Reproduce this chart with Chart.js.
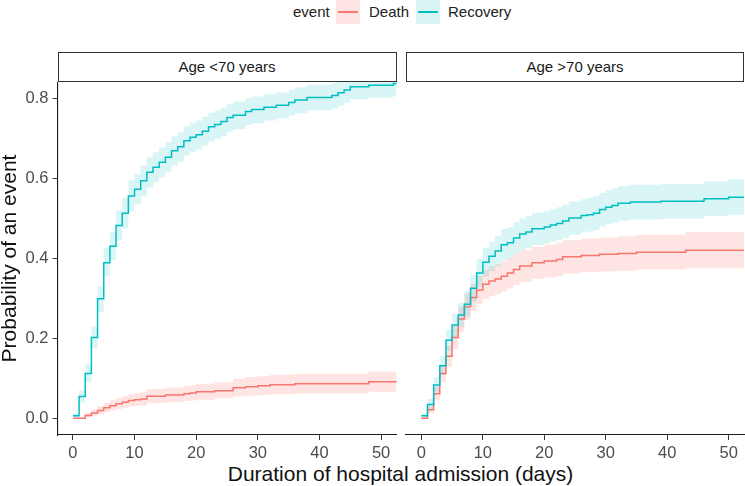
<!DOCTYPE html>
<html>
<head>
<meta charset="utf-8">
<script src="https://cdn.jsdelivr.net/npm/chart.js@4.4.0/dist/chart.umd.min.js"></script>
<style>
  body { margin: 0; background: #fff; font-family: "Liberation Sans", Arial, sans-serif; }
  #wrap { position: relative; width: 745px; height: 486px; overflow: hidden; }
  canvas { position: absolute; top: 82px; }
  .strip { position: absolute; top: 52px; height: 30px; box-sizing: border-box; border: 1.3px solid #333;
           font-size: 15px; color: #1a1a1a; text-align: center; line-height: 27px; background: #fff; }
  .leg { position: absolute; top: 0; font-size: 15px; color: #222; line-height: 24px; }
  .key { position: absolute; top: 0; width: 24px; height: 24px; }
  .key i { position: absolute; left: 2px; right: 2px; top: 11px; height: 2px; }
  #xtitle { position: absolute; left: 57px; width: 687px; top: 462px; text-align: center; font-size: 21px; color: #111; }
</style>
</head>
<body>
<div id="wrap">
  <div class="leg" style="left:293px">event</div>
  <div class="key" style="left:336px;background:rgba(248,118,109,0.2)"><i style="background:#F8766D"></i></div>
  <div class="leg" style="left:369px">Death</div>
  <div class="key" style="left:416px;background:rgba(0,191,196,0.15)"><i style="background:#00BFC4"></i></div>
  <div class="leg" style="left:448px">Recovery</div>

  <div class="strip" style="left:57.5px;width:339px">Age &lt;70 years</div>
  <div class="strip" style="left:406px;width:338px">Age &gt;70 years</div>

  <canvas id="young" width="400" height="380" style="left:0"></canvas>
  <canvas id="old" width="341" height="380" style="left:404px"></canvas>

  <div id="xtitle">Duration of hospital admission (days)</div>
</div>
<script>
// tick marks
var xTicks = [0, 10, 20, 30, 40, 50];
var yTicks = [0, 0.2, 0.4, 0.6, 0.8];
var yTickLabels = ["0.0", "0.2", "0.4", "0.6", "0.8"];

// Age <70 years - Recovery
var youngRecT  = [0, 1, 2, 3, 4, 5, 6, 7, 8, 9, 10, 11, 12, 13, 14, 15, 16, 17, 18, 19, 20, 21, 22, 23, 24, 25, 26, 28, 29, 31, 33, 35, 36, 38, 42, 43, 44, 45, 48, 52, 53];
var youngRec   = [0.006, 0.054, 0.112, 0.202, 0.299, 0.389, 0.430, 0.482, 0.513, 0.556, 0.573, 0.594, 0.615, 0.628, 0.640, 0.653, 0.669, 0.679, 0.694, 0.703, 0.709, 0.718, 0.729, 0.735, 0.742, 0.752, 0.758, 0.767, 0.772, 0.778, 0.783, 0.790, 0.796, 0.802, 0.807, 0.814, 0.821, 0.829, 0.833, 0.837, 0.837];
var youngRecLo = [0.002, 0.040, 0.090, 0.175, 0.265, 0.355, 0.395, 0.445, 0.475, 0.518, 0.535, 0.555, 0.577, 0.590, 0.602, 0.615, 0.632, 0.642, 0.657, 0.666, 0.672, 0.682, 0.693, 0.699, 0.706, 0.717, 0.723, 0.733, 0.738, 0.745, 0.750, 0.757, 0.763, 0.770, 0.775, 0.782, 0.790, 0.798, 0.802, 0.806, 0.806];
var youngRecHi = [0.012, 0.070, 0.135, 0.230, 0.330, 0.425, 0.465, 0.520, 0.550, 0.595, 0.610, 0.632, 0.652, 0.665, 0.677, 0.690, 0.705, 0.715, 0.730, 0.739, 0.745, 0.754, 0.764, 0.770, 0.777, 0.786, 0.792, 0.800, 0.805, 0.810, 0.815, 0.822, 0.828, 0.834, 0.839, 0.846, 0.852, 0.860, 0.864, 0.868, 0.868];

// Age <70 years - Death
var youngDeathT  = [0, 2, 3, 4, 5, 6, 7, 8, 9, 10, 11, 12, 15, 18, 19, 20, 23, 26, 28, 30, 32, 36, 48, 53];
var youngDeath   = [0.000, 0.007, 0.013, 0.019, 0.026, 0.031, 0.036, 0.040, 0.044, 0.046, 0.048, 0.055, 0.058, 0.061, 0.063, 0.066, 0.069, 0.076, 0.079, 0.081, 0.084, 0.086, 0.091, 0.091];
var youngDeathLo = [0.000, 0.002, 0.006, 0.010, 0.015, 0.019, 0.023, 0.026, 0.029, 0.031, 0.032, 0.038, 0.040, 0.043, 0.044, 0.046, 0.049, 0.054, 0.056, 0.058, 0.060, 0.062, 0.066, 0.066];
var youngDeathHi = [0.001, 0.013, 0.022, 0.030, 0.038, 0.045, 0.050, 0.055, 0.060, 0.063, 0.065, 0.073, 0.077, 0.081, 0.083, 0.086, 0.090, 0.099, 0.103, 0.105, 0.109, 0.111, 0.117, 0.117];

// Age >70 years - Recovery
var oldRecT  = [0, 1, 2, 3, 4, 5, 6, 7, 8, 9, 10, 11, 12, 13, 14, 15, 16, 17, 18, 20, 21, 22, 23, 24, 26, 27, 28, 29, 30, 31, 32, 34, 39, 46, 50, 53];
var oldRec   = [0.006, 0.034, 0.083, 0.131, 0.195, 0.233, 0.258, 0.285, 0.325, 0.363, 0.390, 0.405, 0.418, 0.434, 0.439, 0.451, 0.461, 0.466, 0.474, 0.478, 0.483, 0.487, 0.493, 0.501, 0.507, 0.509, 0.513, 0.522, 0.528, 0.532, 0.538, 0.541, 0.543, 0.549, 0.553, 0.553];
var oldRecLo = [0.002, 0.022, 0.065, 0.108, 0.168, 0.204, 0.228, 0.254, 0.292, 0.328, 0.354, 0.368, 0.380, 0.395, 0.400, 0.411, 0.421, 0.426, 0.433, 0.437, 0.442, 0.446, 0.451, 0.459, 0.465, 0.467, 0.471, 0.479, 0.485, 0.489, 0.494, 0.497, 0.499, 0.505, 0.509, 0.509];
var oldRecHi = [0.012, 0.048, 0.103, 0.155, 0.222, 0.262, 0.289, 0.317, 0.358, 0.398, 0.426, 0.442, 0.456, 0.473, 0.478, 0.490, 0.500, 0.506, 0.514, 0.518, 0.523, 0.528, 0.534, 0.542, 0.548, 0.551, 0.556, 0.564, 0.571, 0.575, 0.581, 0.584, 0.586, 0.593, 0.598, 0.598];

// Age >70 years - Death
var oldDeathT  = [0, 1, 2, 3, 4, 5, 6, 7, 8, 9, 10, 11, 12, 13, 14, 15, 16, 18, 20, 22, 23, 26, 29, 32, 35, 43, 53];
var oldDeath   = [0.000, 0.021, 0.061, 0.112, 0.155, 0.202, 0.248, 0.279, 0.302, 0.321, 0.335, 0.343, 0.348, 0.355, 0.363, 0.372, 0.381, 0.389, 0.393, 0.397, 0.404, 0.407, 0.410, 0.412, 0.415, 0.420, 0.420];
var oldDeathLo = [0.000, 0.012, 0.045, 0.090, 0.129, 0.173, 0.216, 0.246, 0.268, 0.286, 0.299, 0.306, 0.311, 0.317, 0.325, 0.333, 0.341, 0.349, 0.352, 0.356, 0.362, 0.365, 0.367, 0.369, 0.372, 0.375, 0.375];
var oldDeathHi = [0.003, 0.032, 0.078, 0.135, 0.181, 0.231, 0.279, 0.312, 0.336, 0.356, 0.371, 0.380, 0.385, 0.393, 0.401, 0.411, 0.420, 0.429, 0.434, 0.438, 0.445, 0.449, 0.452, 0.455, 0.459, 0.465, 0.465];

var red = "#F8766D", teal = "#00BFC4";
var redBand = "rgba(248,118,109,0.2)", tealBand = "rgba(0,191,196,0.15)";

Chart.defaults.font.family = "'Liberation Sans', Arial, sans-serif";

function pts(t, v) {
    return t.map(function (x, i) { return { x: x, y: v[i] }; });
}

function lineSet(data, color) {
    return { data: data, borderColor: color, borderWidth: 1.5, stepped: true, pointRadius: 0, fill: false, clip: 0 };
}

function bandSet(data, fillTo, color) {
    return { data: data, borderColor: "transparent", borderWidth: 0, stepped: true, pointRadius: 0,
             fill: fillTo, backgroundColor: color, clip: 0 };
}

function drawPanel(id, p, showY, pad) {
    var datasets = [
        lineSet(pts(p.recT, p.rec), teal),
        lineSet(pts(p.deathT, p.death), red),
        bandSet(pts(p.recT, p.recLo), false, tealBand),
        bandSet(pts(p.recT, p.recHi), 2, tealBand),
        bandSet(pts(p.deathT, p.deathLo), false, redBand),
        bandSet(pts(p.deathT, p.deathHi), 4, redBand)
    ];
    return new Chart(id, {
        type: "line",
        data: { datasets: datasets },
        options: {
            responsive: false,
            animation: false,
            layout: { padding: pad },
            plugins: { legend: { display: false }, tooltip: { enabled: false } },
            scales: {
                x: {
                    type: "linear", min: -2.5, max: 52.5,
                    afterBuildTicks: function (s) { s.ticks = xTicks.map(function (v) { return { value: v }; }); },
                    afterFit: function (s) { s.height = 27; s.paddingLeft = 0; s.paddingRight = 0; },
                    ticks: { color: "#4d4d4d", font: { size: 16.5 }, padding: 4, maxRotation: 0, autoSkip: false,
                             callback: function (v) { return String(v); } },
                    grid: { display: true, drawOnChartArea: false, drawTicks: true, tickLength: 5, color: "#333" },
                    border: { display: true, color: "#1a1a1a", width: 1.1 }
                },
                y: {
                    type: "linear", min: -0.042, max: 0.841, display: showY,
                    afterBuildTicks: function (s) { s.ticks = yTicks.map(function (v) { return { value: v }; }); },
                    afterFit: function (s) { s.width = showY ? 57.5 : 0; s.paddingTop = 0; s.paddingBottom = 0; },
                    ticks: { color: "#4d4d4d", font: { size: 16.5 }, padding: 4,
                             callback: function (v, i) { return yTickLabels[i]; } },
                    grid: { display: true, drawOnChartArea: false, drawTicks: true, tickLength: 5, color: "#333" },
                    border: { display: true, color: "#1a1a1a", width: 1.1 },
                    title: { display: true, text: "Probability of an event", color: "#111",
                             font: { size: 21, lineHeight: 1 }, padding: 0 }
                }
            }
        }
    });
}

drawPanel("young", {
    recT: youngRecT, rec: youngRec, recLo: youngRecLo, recHi: youngRecHi,
    deathT: youngDeathT, death: youngDeath, deathLo: youngDeathLo, deathHi: youngDeathHi
}, true, { left: 0, right: 3.5, top: 0, bottom: 0 });

drawPanel("old", {
    recT: oldRecT, rec: oldRec, recLo: oldRecLo, recHi: oldRecHi,
    deathT: oldDeathT, death: oldDeath, deathLo: oldDeathLo, deathHi: oldDeathHi
}, false, { left: 2, right: 1, top: 0, bottom: 0 });
</script>
</body>
</html>
